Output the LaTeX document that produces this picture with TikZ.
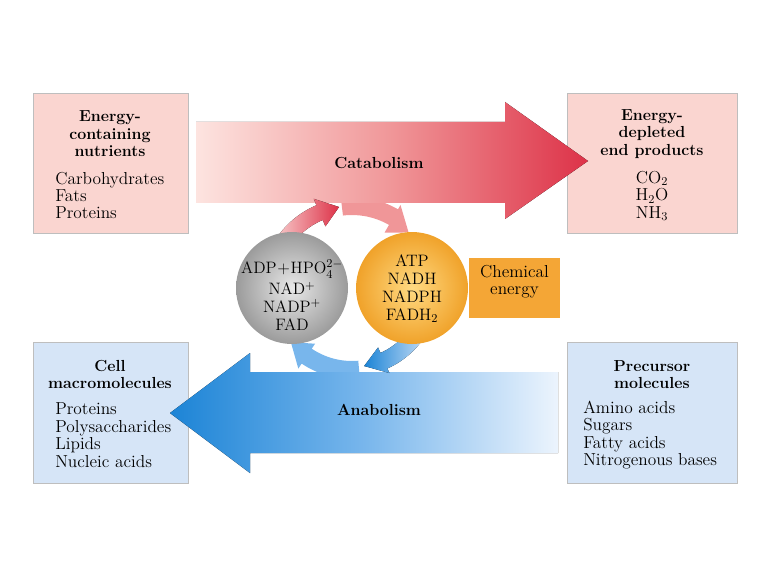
\documentclass[tikz,border=0pt]{standalone}
\usepackage{amsmath,amssymb}
\usepackage{tikz}
\usetikzlibrary{fit}
\definecolor{box_pink}{RGB}{250,213,208}
\definecolor{box_blue}{RGB}{214,229,247}
\definecolor{box_edge}{RGB}{190,190,190}
\definecolor{cat_light}{RGB}{253,228,224}
\definecolor{cat_mid}{RGB}{240,150,152}
\definecolor{cat_dark}{RGB}{221,50,72}
\definecolor{cyc_pink}{RGB}{248,205,205}
\definecolor{ana_dark}{RGB}{28,132,214}
\definecolor{ana_mid}{RGB}{120,182,236}
\definecolor{ana_light}{RGB}{236,244,253}
\definecolor{cyc_blue}{RGB}{210,228,248}
\definecolor{chem_orange}{RGB}{244,166,54}
\definecolor{ball_gray_in}{RGB}{232,232,232}
\definecolor{ball_gray_out}{RGB}{155,155,155}
\definecolor{ball_orange_in}{RGB}{255,218,130}
\definecolor{ball_orange_out}{RGB}{240,162,42}

\begin{document}
\begin{tikzpicture}[x=0.75pt,y=0.75pt]
    \tikzstyle{panel}=[draw=box_edge, line width=0.6pt, rectangle, inner sep=0pt]
    \tikzstyle{head}=[font=\fontsize{12}{13.1}\selectfont\bfseries, align=center, inner sep=0pt, text=black]
    \tikzstyle{items}=[font=\fontsize{13}{13.1}\selectfont, align=left, inner sep=0pt, text=black]
    \tikzstyle{balltext}=[font=\fontsize{12.4}{13.4}\selectfont, align=center, inner sep=0pt, text=black]
    \tikzstyle{ball}=[circle, minimum size=84pt, inner sep=0pt]

    \useasboundingbox (0,0) rectangle (768,576);

    \node[panel, fill=box_pink, fit={(33,343) (188,483)}] (nutr) {};
    \node[panel, fill=box_pink, fit={(567,343) (737,483)}] (prod) {};
    \node[panel, fill=box_blue, fit={(33,93) (188,234)}] (macro) {};
    \node[panel, fill=box_blue, fit={(567,93) (737,234)}] (prec) {};

    \begin{scope}[shift={(352,287)}]
      \fill[cat_mid] (97:92) arc[start angle=97, end angle=60, radius=92] -- (60:97) -- (45:80)
        -- (60:65) -- (60:74) arc[start angle=60, end angle=97, radius=74] -- cycle;
      \fill[ana_mid] (275:90) arc[start angle=275, end angle=236, radius=90] -- (236:96) -- (221:81)
        -- (236:66) -- (236:72) arc[start angle=236, end angle=275, radius=72] -- cycle;
    \end{scope}

    \fill[left color=cat_light, right color=cat_dark, middle color=cat_mid]
      (196,373) -- (196,454) -- (505,454) -- (505,474) -- (588,415) -- (505,357) -- (505,373) -- cycle;
    \fill[left color=ana_dark, right color=ana_light, middle color=ana_mid]
      (558,204) -- (558,123) -- (250,123) -- (250,103) -- (170,163) -- (250,223) -- (250,204) -- cycle;

    \begin{scope}[shift={(352,287)}]
      \fill[left color=cyc_pink, right color=cat_dark] (148:91) arc[start angle=148, end angle=113, radius=91]
        -- (113:98) -- (99:83) -- (113:68) -- (113:75) arc[start angle=113, end angle=148, radius=75] -- cycle;
      \fill[left color=ana_dark, right color=cyc_blue] (-25:87) arc[start angle=-25, end angle=-66, radius=87]
        -- (-66:92) -- (-81:78) -- (-66:64) -- (-66:70) arc[start angle=-66, end angle=-25, radius=70] -- cycle;
    \end{scope}

    \node[ball, inner color=ball_gray_in, outer color=ball_gray_out] (adp) at (292,288) {};
    \node[ball, inner color=ball_orange_in, outer color=ball_orange_out] (atp) at (412,288) {};
    \node[items, align=center, fill=chem_orange, fit={(469,258) (560,318)}] (chem) {Chemical\\energy};

    \node[head] (nutrtitle) at (110,442) {Energy-\\containing\\nutrients};
    \node[items, anchor=west] (nutrlist) at (55,380.5) {Carbohydrates\\Fats\\Proteins};
    \node[head] (prodtitle) at (652,442) {Energy-\\depleted\\end products};
    \node[items, align=center] (prodlist) at (652,380) {CO$_2$\\H$_2$O\\NH$_3$};
    \node[head] (macrotitle) at (110,201.5) {Cell\\macromolecules};
    \node[items, anchor=west] (macrolist) at (55,141) {Proteins\\Polysaccharides\\Lipids\\Nucleic acids};
    \node[head] (prectitle) at (652,201.5) {Precursor\\molecules};
    \node[items, anchor=west] (preclist) at (583,141) {Amino acids\\Sugars\\Fatty acids\\Nitrogenous bases};

    \node[head] (catlabel) at (379,413) {Catabolism};
    \node[head] (analabel) at (379,166) {Anabolism};

    \node[balltext] (adptext) at (292,281) {ADP\hspace{0.5pt}+\hspace{0.5pt}HPO$_4^{2-}$\\[2.5pt]NAD$^+$\\NADP$^+$\\FAD};
    \node[balltext] (atptext) at (412,287) {ATP\\NADH\\NADPH\\FADH$_2$};
  \end{tikzpicture}
\end{document}
